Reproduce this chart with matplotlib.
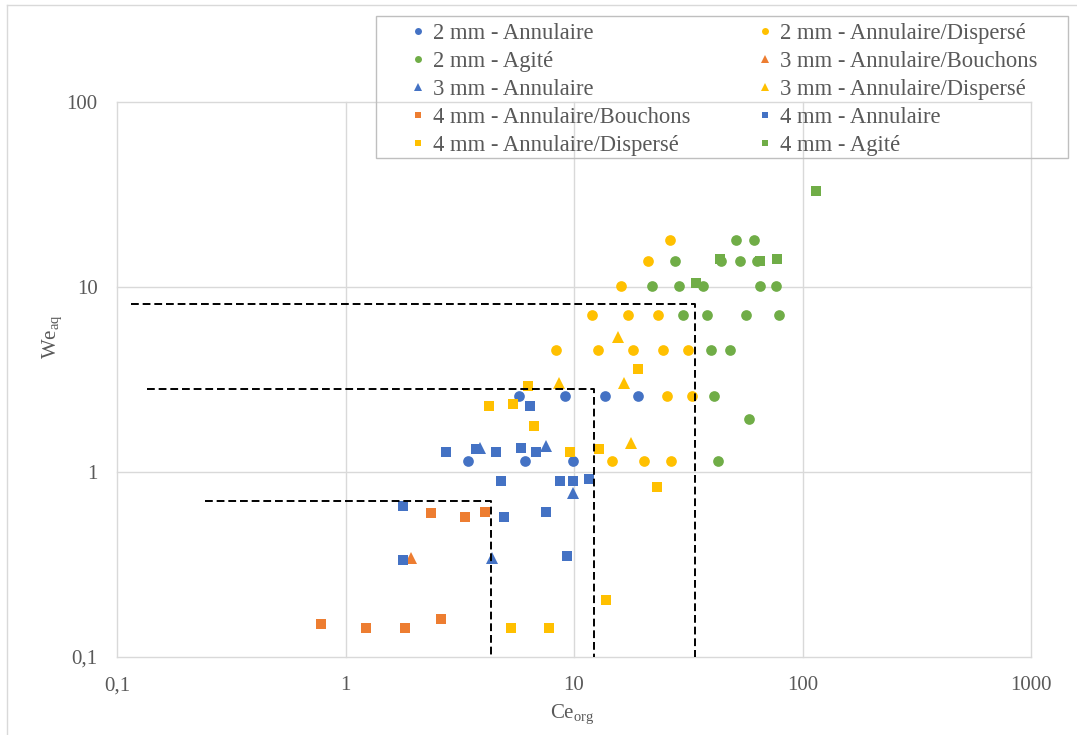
import matplotlib
matplotlib.use("Agg")
import matplotlib.pyplot as plt
from matplotlib.patches import Rectangle
from matplotlib.lines import Line2D

plt.rcParams['font.family'] = ['Liberation Serif', 'DejaVu Serif']
plt.rcParams['mathtext.fontset'] = 'custom'
plt.rcParams['mathtext.rm'] = 'Liberation Serif'
plt.rcParams['mathtext.it'] = 'Liberation Serif:italic'

# --- data ---
d2_ann_x = [3.44, 5.74, 6.1, 9.14, 9.9, 13.7, 19.1]
d2_ann_y = [1.15, 2.58, 1.15, 2.58, 1.15, 2.58, 2.58]

d2_disp_x = [26.4, 21.0, 16.06, 12.0, 17.2, 23.2, 8.35, 12.8, 18.1, 24.4, 31.4, 25.4, 33.0, 14.6, 20.3, 26.7]
d2_disp_y = [18.0, 13.9, 10.1, 7.06, 7.06, 7.06, 4.55, 4.55, 4.55, 4.55, 4.55, 2.58, 2.58, 1.15, 1.15, 1.15]

d2_agi_x = [51.2, 61.5, 27.7, 44.0, 53.1, 63.0, 22.0, 28.9, 36.8, 65.3, 76.5,
            30.1, 38.1, 56.6, 78.7, 39.6, 48.3, 41.0, 58.5, 42.5]
d2_agi_y = [18.0, 18.0, 13.9, 13.9, 13.9, 13.9, 10.1, 10.1, 10.1, 10.1, 10.1,
            7.06, 7.06, 7.06, 7.06, 4.55, 4.55, 2.58, 1.93, 1.15]

d3_bouch_x = [1.94]
d3_bouch_y = [0.344]

d3_ann_x = [3.88, 7.52, 9.93, 4.39]
d3_ann_y = [1.34, 1.38, 0.767, 0.344]

d3_disp_x = [8.63, 15.6, 16.5, 17.8]
d3_disp_y = [3.04, 5.39, 3.04, 1.43]

d4_bouch_x = [2.36, 3.35, 4.09, 0.778, 1.23, 1.82, 2.61]
d4_bouch_y = [0.603, 0.569, 0.608, 0.151, 0.143, 0.143, 0.160]

d4_ann_x = [1.78, 1.79, 2.75, 3.73, 4.56, 5.88, 6.80, 6.40, 4.79, 8.66, 9.93, 11.6, 4.95, 7.54, 9.31]
d4_ann_y = [0.655, 0.334, 1.28, 1.33, 1.28, 1.35, 1.28, 2.28, 0.897, 0.897, 0.897, 0.92, 0.569, 0.608, 0.353]

d4_disp_x = [4.23, 5.42, 6.27, 6.70, 9.57, 12.9, 19.0, 23.0, 13.8, 5.32, 7.75]
d4_disp_y = [2.28, 2.34, 2.92, 1.78, 1.29, 1.33, 3.59, 0.833, 0.203, 0.143, 0.143]

d4_agi_x = [115, 43.5, 65.3, 77.3, 34.1]
d4_agi_y = [33.2, 14.1, 13.9, 14.2, 10.5]

# dashed limit lines (corner points)
lim1_x = [0.243, 4.33, 4.33]
lim1_y = [0.697, 0.697, 0.1]
lim2_x = [0.135, 12.2, 12.2]
lim2_y = [2.81, 2.81, 0.1]
lim3_x = [0.115, 33.8, 33.8]
lim3_y = [8.09, 8.09, 0.1]

xticks = [0.1, 1, 10, 100, 1000]
xtick_labels = ['0,1', '1', '10', '100', '1000']
yticks = [0.1, 1, 10, 100]
ytick_labels = ['0,1', '1', '10', '100']

blue = '#4472C4'
orange = '#ED7D31'
yellow = '#FFC000'
green = '#70AD47'
grey_txt = '#595959'

series = [
    ('2 mm - Annulaire', d2_ann_x, d2_ann_y, 'o', blue),
    ('2 mm - Annulaire/Dispersé', d2_disp_x, d2_disp_y, 'o', yellow),
    ('2 mm - Agité', d2_agi_x, d2_agi_y, 'o', green),
    ('3 mm - Annulaire/Bouchons', d3_bouch_x, d3_bouch_y, '^', orange),
    ('3 mm - Annulaire', d3_ann_x, d3_ann_y, '^', blue),
    ('3 mm - Annulaire/Dispersé', d3_disp_x, d3_disp_y, '^', yellow),
    ('4 mm - Annulaire/Bouchons', d4_bouch_x, d4_bouch_y, 's', orange),
    ('4 mm - Annulaire', d4_ann_x, d4_ann_y, 's', blue),
    ('4 mm - Annulaire/Dispersé', d4_disp_x, d4_disp_y, 's', yellow),
    ('4 mm - Agité', d4_agi_x, d4_agi_y, 's', green),
]
msize = {'o': 7.7, '^': 8.0, 's': 7.2}

W, H = 1077, 735
fig = plt.figure(figsize=(W / 100, H / 100), dpi=100)
ax = fig.add_axes([117 / W, 1 - 657 / H, 914 / W, 555 / H])

handles = []
for name, xs, ys, m, c in series:
    h, = ax.plot(xs, ys, linestyle='none', marker=m, markersize=msize[m],
                 color=c, markeredgewidth=0, label=name, zorder=3)
    handles.append(h)

for lx, ly in [(lim1_x, lim1_y), (lim2_x, lim2_y), (lim3_x, lim3_y)]:
    ax.plot(lx, ly, color='black', linestyle=(0, (4, 2)), linewidth=1.4, zorder=4)

ax.set_xscale('log')
ax.set_yscale('log')
ax.set_xlim(0.1, 1000)
ax.set_ylim(0.1, 100)
ax.set_xticks(xticks)
ax.set_xticklabels(xtick_labels)
ax.set_yticks(yticks)
ax.set_yticklabels(ytick_labels)
ax.minorticks_off()
for s in ax.spines.values():
    s.set_visible(False)
ax.grid(True, color='#d9d9d9', linewidth=1)
ax.set_axisbelow(True)
ax.tick_params(length=0, labelsize=15, labelcolor=grey_txt, pad=14)
for gl in ax.get_xgridlines() + ax.get_ygridlines():
    gl.set_clip_on(False)

fig.text(572 / W, 1 - 714 / H, 'Ce$_{\\mathrm{org}}$', ha='center', va='center',
         fontsize=15, color=grey_txt)
fig.text(52 / W, 1 - 337 / H, 'We$_{\\mathrm{aq}}$', ha='center', va='center',
         rotation=90, fontsize=15, color=grey_txt)

# legend: two columns, frame drawn separately
fig.patches.append(Rectangle((376 / W, 1 - 158 / H), 692 / W, 142 / H,
                             transform=fig.transFigure, fill=False,
                             edgecolor='#bfbfbf', linewidth=1))
col1 = [handles[i] for i in (0, 2, 4, 6, 8)]
col2 = [handles[i] for i in (1, 3, 5, 7, 9)]
for hs, x0 in [(col1, 398), (col2, 745)]:
    fig.legend(handles=hs, labels=[h.get_label() for h in hs], loc='upper left',
               bbox_to_anchor=(x0 / W, 1 - 12 / H), frameon=False, borderpad=0,
               fontsize=16.3, markerscale=0.65, handlelength=0.8,
               handletextpad=0.25, labelspacing=0.31, labelcolor=grey_txt)

# chart area border (top and left edges visible)
fig.add_artist(Line2D([7 / W, 1], [1 - 5 / H, 1 - 5 / H], transform=fig.transFigure,
                      color='#d9d9d9', linewidth=1))
fig.add_artist(Line2D([7 / W, 7 / W], [0, 1 - 5 / H], transform=fig.transFigure,
                      color='#d9d9d9', linewidth=1))

fig.savefig('out.png', dpi=100)
